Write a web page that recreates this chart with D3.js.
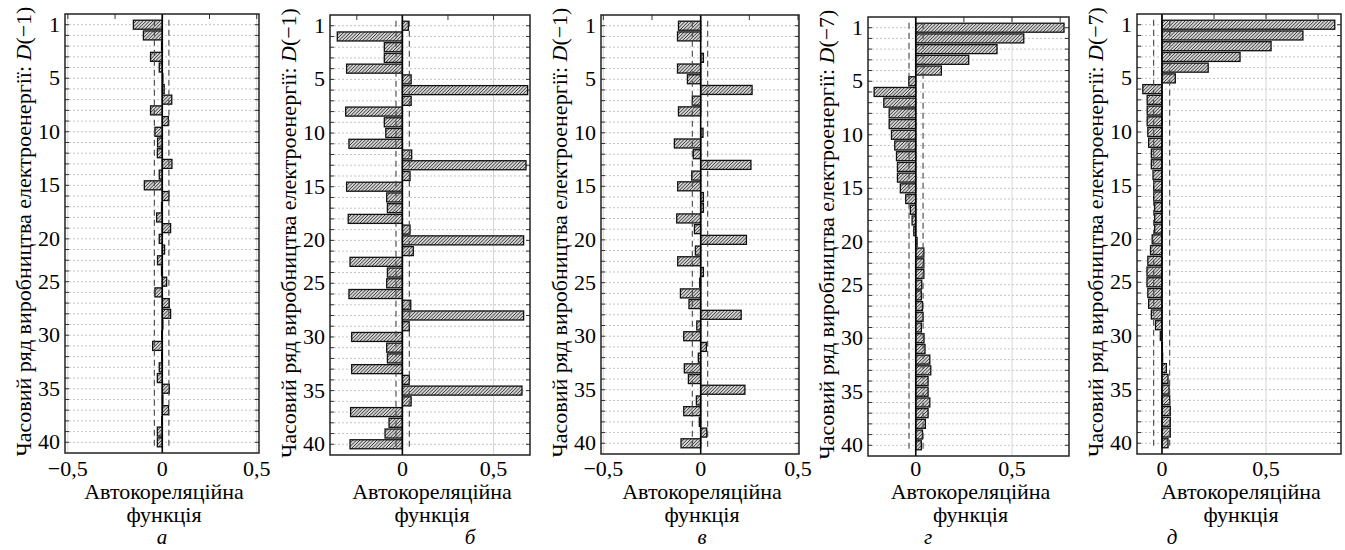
<!DOCTYPE html>
<meta charset="utf-8">
<script src="https://d3js.org/d3.v7.min.js"></script>
<div id="chart"></div>
<script>

// lags 1..40 and the printed y tick labels (the label positions in lag units as they sit in the figure)
var lags = d3.range(1, 41);
var yTickLags = [1, 6, 11, 16, 21, 25, 30, 35, 40];
var yTickText = ["1", "5", "10", "15", "20", "25", "30", "35", "40"];
var xTickVals = [-0.5, 0, 0.5];

// autocorrelation values
var acfA = [-0.153, -0.100, -0.004, -0.062, -0.016, 0.003, 0.010, 0.050, -0.062, 0.032,
            -0.039, -0.025, -0.026, 0.051, -0.016, -0.095, 0.035, -0.004, -0.030, 0.044,
            -0.016, 0.012, -0.025, -0.004, 0.023, -0.039, 0.037, 0.044, 0.003, -0.003,
            -0.051, -0.003, -0.016, -0.026, 0.037, 0.003, 0.033, -0.003, -0.026, -0.026];
var acfB = [0.033, -0.357, -0.099, -0.099, -0.306, 0.048, 0.687, 0.048, -0.311, -0.099,
            -0.091, -0.293, 0.051, 0.678, 0.042, -0.306, -0.086, -0.082, -0.297, 0.042,
            0.665, 0.060, -0.287, -0.082, -0.086, -0.293, 0.046, 0.665, 0.038, -0.278,
            -0.086, -0.082, -0.278, 0.038, 0.656, 0.048, -0.284, -0.073, -0.095, -0.287];
var acfV = [-0.114, -0.119, 0.000, 0.014, -0.119, -0.068, 0.264, -0.043, -0.114, 0.000,
            0.012, -0.135, -0.038, 0.258, -0.046, -0.118, 0.014, 0.014, -0.123, -0.032,
            0.235, -0.027, -0.118, 0.014, -0.005, -0.104, -0.060, 0.208, -0.020, -0.087,
            0.029, -0.012, -0.084, -0.063, 0.227, -0.022, -0.087, -0.007, 0.031, -0.101];
var acfG = [0.770, 0.561, 0.422, 0.275, 0.133, -0.036, -0.216, -0.166, -0.138, -0.138,
            -0.126, -0.109, -0.100, -0.095, -0.095, -0.080, -0.052, -0.028, -0.019, -0.010,
            0.007, 0.042, 0.042, 0.042, 0.031, 0.029, 0.035, 0.038, 0.029, 0.043,
            0.048, 0.073, 0.078, 0.064, 0.064, 0.073, 0.064, 0.050, 0.035, 0.029];
var acfD = [0.830, 0.677, 0.524, 0.375, 0.222, 0.064, -0.092, -0.071, -0.071, -0.071,
            -0.068, -0.064, -0.051, -0.051, -0.043, -0.040, -0.040, -0.035, -0.035, -0.035,
            -0.047, -0.055, -0.068, -0.072, -0.072, -0.068, -0.064, -0.051, -0.031, -0.008,
            0.002, 0.003, 0.021, 0.029, 0.034, 0.037, 0.040, 0.040, 0.040, 0.029];

// confidence limits (dashed lines)
var confA = [-0.042, 0.035];
var confB = [-0.035, 0.038];
var confV = [-0.043, 0.036];
var confG = [-0.035, 0.038];
var confD = [-0.040, 0.037];

var seriesLag = ["−1", "−1", "−1", "−7", "−7"];
var letters = ["а", "б", "в", "г", "д"];

// panel frames on the page
var panels = [
  {acf: acfA, conf: confA, x0: 65,  x1: 259,  y0: 14, y1: 453, dom: [-0.515, 0.512], letterX: 162},
  {acf: acfB, conf: confB, x0: 330, x1: 530,  y0: 15, y1: 455, dom: [-0.397, 0.700], letterX: 470},
  {acf: acfV, conf: confV, x0: 601, x1: 799,  y0: 15, y1: 454, dom: [-0.512, 0.505], letterX: 702},
  {acf: acfG, conf: confG, x0: 868, x1: 1069, y0: 17, y1: 456, dom: [-0.248, 0.796], letterX: 928},
  {acf: acfD, conf: confD, x0: 1137, x1: 1341, y0: 14, y1: 454, dom: [-0.120, 0.860], letterX: 1172}
];

var fontCss = "font-family: 'Liberation Serif' !important;";

var fmt = function(d) {
  if (d === 0) return "0";
  return d3.format(".1f")(d).replace(".", ",").replace("-", "−");
};

// "/" hatch strokes inside one bar rectangle
function hatchPath(bx0, bx1, by0, by1, step) {
  var path = d3.path();
  for (var c = bx0 + by0; c <= bx1 + by1; c += step) {
    var xa = Math.max(bx0, c - by1), xb = Math.min(bx1, c - by0);
    if (xb - xa > 0.3) {
      path.moveTo(xa, c - xa);
      path.lineTo(xb, c - xb);
    }
  }
  return path.toString();
}

d3.select("body").style("margin", "0");

var svg = d3.select("#chart")
  .append("svg")
    .attr("width", 1345)
    .attr("height", 550)
    .attr("style", fontCss);

// serif text helper
function txt(parent, size) {
  return parent.append("text")
    .attr("font-family", "Liberation Serif")
    .attr("font-size", size)
    .attr("style", fontCss + " font-size: " + size + "px;");
}

panels.forEach(function(p, i) {
  var g = svg.append("g");

  var x = d3.scaleLinear().domain(p.dom).range([p.x0, p.x1]);
  var y = d3.scaleLinear().domain([0, 41]).range([p.y0, p.y1]);
  var barH = (y(1) - y(0)) * 0.84;

  // horizontal grid at every lag
  g.selectAll(".hgrid")
    .data(lags)
    .enter().append("line")
      .attr("x1", p.x0).attr("x2", p.x1)
      .attr("y1", function(d) { return y(d); })
      .attr("y2", function(d) { return y(d); })
      .attr("stroke", "#c4c4c4")
      .attr("stroke-dasharray", "2,2")
      .attr("stroke-width", 1);

  // vertical grid at major ticks
  var xt = xTickVals.filter(function(d) { return d >= p.dom[0] && d <= p.dom[1]; });
  g.selectAll(".vgrid")
    .data(xt.filter(function(d) { return d !== 0; }))
    .enter().append("line")
      .attr("x1", function(d) { return x(d); })
      .attr("x2", function(d) { return x(d); })
      .attr("y1", p.y0).attr("y2", p.y1)
      .attr("stroke", "#d6d6d6")
      .attr("stroke-width", 1);

  // small inside ticks
  g.selectAll(".lt")
    .data(lags)
    .enter().append("line")
      .attr("x1", p.x0).attr("x2", p.x0 + 4)
      .attr("y1", function(d) { return y(d); })
      .attr("y2", function(d) { return y(d); })
      .attr("stroke", "#333");
  g.selectAll(".rt")
    .data(lags)
    .enter().append("line")
      .attr("x1", p.x1 - 4).attr("x2", p.x1)
      .attr("y1", function(d) { return y(d); })
      .attr("y2", function(d) { return y(d); })
      .attr("stroke", "#333");
  var minor = d3.range(-0.5, 1.01, 0.25).filter(function(d) { return d > p.dom[0] && d < p.dom[1]; });
  g.selectAll(".tt")
    .data(minor)
    .enter().append("line")
      .attr("x1", function(d) { return x(d); })
      .attr("x2", function(d) { return x(d); })
      .attr("y1", p.y0).attr("y2", p.y0 + 5)
      .attr("stroke", "#333");

  // bars: grey fill, hatch strokes, dark outline
  var bars = g.selectAll(".bar")
    .data(p.acf)
    .enter().append("g");
  bars.append("rect")
      .attr("x", function(d) { return Math.min(x(0), x(d)); })
      .attr("width", function(d) { return Math.abs(x(d) - x(0)); })
      .attr("y", function(d, k) { return y(lags[k]) - barH / 2; })
      .attr("height", barH)
      .attr("fill", "#d2d2d2");
  bars.append("path")
      .attr("d", function(d, k) {
        return hatchPath(Math.min(x(0), x(d)), Math.max(x(0), x(d)),
                         y(lags[k]) - barH / 2, y(lags[k]) + barH / 2, 3.4);
      })
      .attr("stroke", "#3a3a3a")
      .attr("stroke-width", 1)
      .attr("fill", "none");
  bars.append("rect")
      .attr("x", function(d) { return Math.min(x(0), x(d)); })
      .attr("width", function(d) { return Math.abs(x(d) - x(0)); })
      .attr("y", function(d, k) { return y(lags[k]) - barH / 2; })
      .attr("height", barH)
      .attr("fill", "none")
      .attr("stroke", "#111")
      .attr("stroke-width", 1.3);

  // zero line
  g.append("line")
    .attr("x1", x(0)).attr("x2", x(0))
    .attr("y1", p.y0).attr("y2", p.y1)
    .attr("stroke", "#000")
    .attr("stroke-width", 1.6);

  // confidence limits
  g.selectAll(".conf")
    .data(p.conf)
    .enter().append("line")
      .attr("x1", function(d) { return x(d); })
      .attr("x2", function(d) { return x(d); })
      .attr("y1", y(1) - 5).attr("y2", y(40) + 5)
      .attr("stroke", "#444")
      .attr("stroke-width", 1.1)
      .attr("stroke-dasharray", "6,4");

  // frame
  g.append("rect")
    .attr("x", p.x0).attr("y", p.y0)
    .attr("width", p.x1 - p.x0).attr("height", p.y1 - p.y0)
    .attr("fill", "none")
    .attr("stroke", "#222")
    .attr("stroke-width", 1.5);

  // y tick labels
  yTickLags.forEach(function(d, k) {
    txt(g, 22)
      .attr("x", p.x0 - 5)
      .attr("y", y(d) + 7)
      .attr("text-anchor", "end")
      .text(yTickText[k]);
  });

  // x tick labels
  xt.forEach(function(d) {
    txt(g, 22)
      .attr("x", x(d))
      .attr("y", 476)
      .attr("text-anchor", "middle")
      .text(fmt(d));
  });

  // x title
  var cx = (p.x0 + p.x1) / 2 + 2;
  txt(g, 22).attr("x", cx).attr("y", 499).attr("text-anchor", "middle").text("Автокореляційна");
  txt(g, 22).attr("x", cx).attr("y", 522).attr("text-anchor", "middle").text("функція");

  // panel letter
  txt(g, 21).attr("x", p.letterX).attr("y", 544).attr("text-anchor", "middle")
    .attr("font-style", "italic").style("font-style", "italic")
    .text(letters[i]);

  // y title
  var yt = txt(g, 22)
    .attr("transform", "translate(" + (p.x0 - 34) + "," + ((p.y0 + p.y1) / 2 - 2) + ") rotate(-90)")
    .attr("text-anchor", "middle");
  yt.append("tspan").text("Часовий ряд виробництва електроенергії:  ");
  yt.append("tspan").attr("font-style", "italic").style("font-style", "italic").text("D");
  yt.append("tspan").text("(" + seriesLag[i] + ")");
});

</script>
